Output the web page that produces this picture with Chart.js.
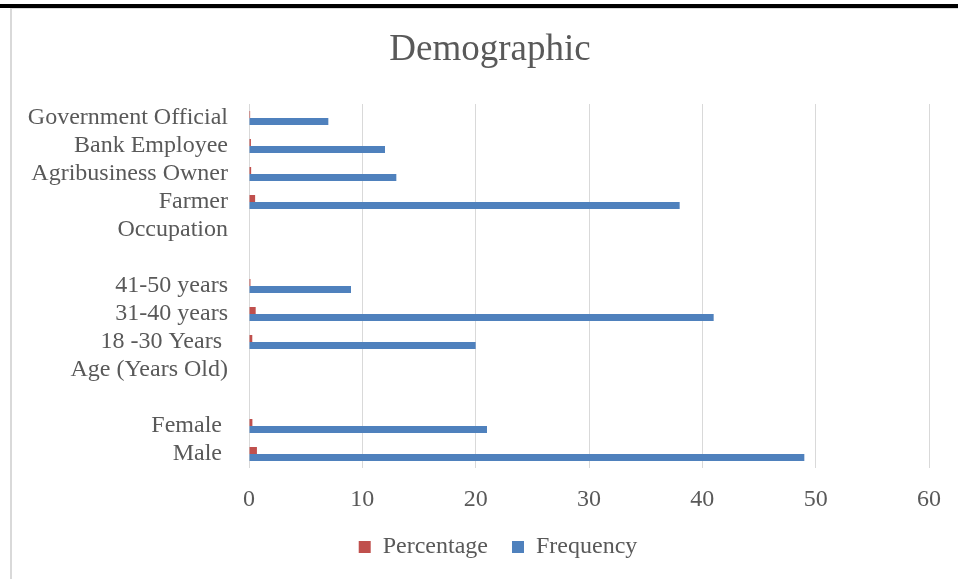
<!DOCTYPE html>
<html>
<head>
<meta charset="utf-8">
<script src="https://cdn.jsdelivr.net/npm/chart.js@4/dist/chart.umd.min.js"></script>
<style>
  html, body { margin: 0; padding: 0; background: #ffffff; }
  #wrap { position: relative; width: 958px; height: 579px; overflow: hidden; }
  #topbar { position: absolute; left: 0; top: 4px; width: 958px; height: 4px; background: #000000; }
  #frame { position: absolute; left: 10px; top: 8px; width: 960px; height: 600px;
           border-left: 2px solid #d9d9d9; border-top: 1px solid #d9d9d9; }
  #chart { position: absolute; left: 0; top: 0; }
</style>
</head>
<body>
<div id="wrap">
  <div id="topbar"></div>
  <div id="frame"></div>
  <canvas id="chart" width="958" height="579"></canvas>
</div>
<script>
// Category rows, top to bottom
const categories = [
  'Government Official', 'Bank Employee', 'Agribusiness Owner', 'Farmer', 'Occupation',
  '',
  '41-50 years', '31-40 years', '18 -30 Years ', 'Age (Years Old)',
  '',
  'Female ', 'Male '
];
// Share of respondents in each group
const percentage = [0.10, 0.17, 0.19, 0.54, null, null, 0.13, 0.59, 0.29, null, null, 0.30, 0.70];
// Respondent counts
const frequency = [7, 12, 13, 38, null, null, 9, 41, 20, null, null, 21, 49];
const xTicks = [0, 10, 20, 30, 40, 50, 60];

const FONT = '"Liberation Serif", "Times New Roman", serif';
const TEXT = '#595959';
const GRID = '#d9d9d9';

// Nudge the title and legend boxes so they sit centred over the whole frame
const boxOffsets = {
  id: 'boxOffsets',
  afterLayout(chart) {
    const t = chart.titleBlock;
    if (t) { t.left += 25; t.right += 25; }
    const l = chart.legend;
    if (l) { l.left += 33; l.right += 33; l.top -= 10; l.bottom -= 10; }
  }
};

new Chart(document.getElementById('chart'), {
  type: 'bar',
  data: {
    labels: categories,
    datasets: [
      { label: 'Percentage', data: percentage, backgroundColor: '#C0504D',
        categoryPercentage: 0.5, barPercentage: 1.0 },
      { label: 'Frequency', data: frequency, backgroundColor: '#4F81BD',
        categoryPercentage: 0.5, barPercentage: 1.0 }
    ]
  },
  plugins: [boxOffsets],
  options: {
    indexAxis: 'y',
    responsive: false,
    animation: false,
    layout: { padding: { left: 0, right: 28, top: 0, bottom: 0 } },
    plugins: {
      title: {
        display: true,
        text: 'Demographic',
        color: TEXT,
        font: { family: FONT, size: 37, weight: 'normal' },
        padding: { top: 28, bottom: 31.6 }
      },
      legend: {
        position: 'bottom',
        labels: {
          color: TEXT,
          font: { family: FONT, size: 24 },
          boxWidth: 12,
          boxHeight: 12,
          padding: 24
        }
      },
      tooltip: { enabled: false }
    },
    scales: {
      x: {
        min: 0,
        max: 60,
        afterBuildTicks: (scale) => { scale.ticks = xTicks.map(v => ({ value: v })); },
        afterFit: (scale) => { scale.height = 53; },
        grid: { color: GRID, lineWidth: 1, drawTicks: false },
        border: { display: false },
        ticks: { color: TEXT, font: { family: FONT, size: 24 }, padding: 17 }
      },
      y: {
        afterFit: (scale) => { scale.width = 249; },
        grid: { display: false, drawTicks: false },
        border: { display: false },
        ticks: { color: TEXT, font: { family: FONT, size: 24 }, padding: 21, autoSkip: false }
      }
    }
  }
});
</script>
</body>
</html>
